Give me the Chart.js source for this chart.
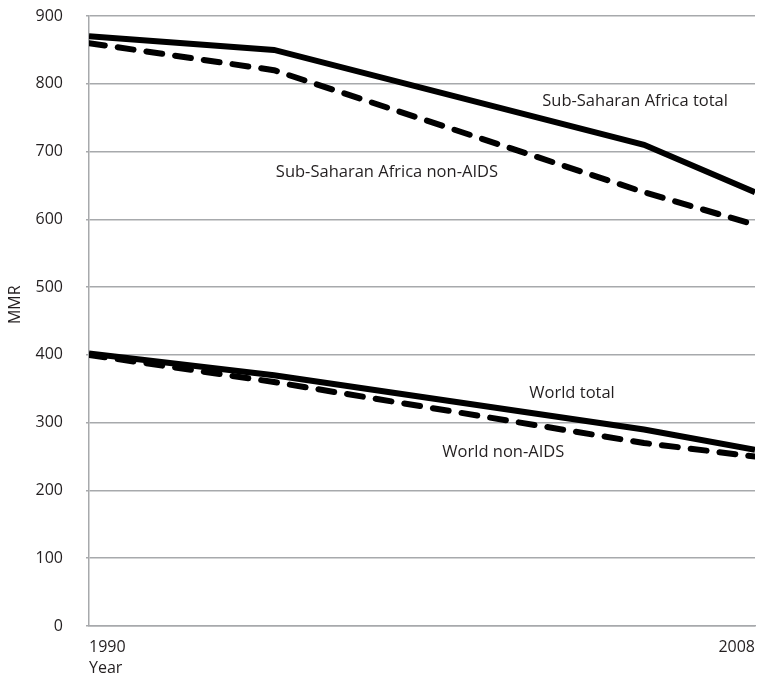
<!DOCTYPE html>
<html>
<head>
<meta charset="utf-8">
<script src="https://cdn.jsdelivr.net/npm/chart.js@4/dist/chart.umd.min.js"></script>
<style>
html,body{margin:0;padding:0;background:#fff;}
#wrap{width:765px;height:676px;position:relative;}
</style>
</head>
<body>
<div id="wrap"><canvas id="c" width="765" height="676"></canvas></div>
<script>
const years = [1990, 1995, 2005, 2008];
const ssaTotal = [870, 850, 710, 640];
const ssaNonAids = [860, 820, 640, 592];
const worldTotal = [402, 370, 290, 260];
const worldNonAids = [400, 360, 270, 250];
const xTickLabels = [1990, 2008];
const yTicks = [0, 100, 200, 300, 400, 500, 600, 700, 800, 900];
const seriesLabels = ['Sub-Saharan Africa total', 'Sub-Saharan Africa non-AIDS', 'World total', 'World non-AIDS'];
const labelAnchors = [[2002.25, 774], [1995.05, 669], [2001.9, 344], [1999.55, 256]];
const yTitle = 'MMR';
const yTitleAnchor = 474;

const FONT = 'Open Sans';
const toPts = arr => arr.map((v, i) => ({x: years[i], y: v}));

const textPlugin = {
  id: 'seriesText',
  afterDatasetsDraw(chart) {
    const {ctx, scales} = chart;
    ctx.save();
    ctx.font = '16.5px "' + FONT + '"';
    ctx.fillStyle = '#231f20';
    ctx.textAlign = 'left';
    ctx.textBaseline = 'middle';
    seriesLabels.forEach((t, i) => {
      const [xv, yv] = labelAnchors[i];
      ctx.fillText(t, scales.x.getPixelForValue(xv), scales.y.getPixelForValue(yv));
    });
    ctx.translate(15, scales.y.getPixelForValue(yTitleAnchor));
    ctx.rotate(-Math.PI / 2);
    ctx.textAlign = 'center';
    ctx.font = '16px "' + FONT + '"';
    ctx.fillText(yTitle, 0, 0);
    ctx.restore();
  }
};

const solid = {borderColor: '#000', borderWidth: 6, pointRadius: 0, tension: 0, fill: false, borderJoinStyle: 'miter'};
const dashed = {borderColor: '#000', borderWidth: 6, pointRadius: 0, tension: 0, fill: false, borderDash: [16, 13], borderCapStyle: 'round', borderJoinStyle: 'round'};

new Chart(document.getElementById('c'), {
  type: 'line',
  data: {
    datasets: [
      Object.assign({label: seriesLabels[0], data: toPts(ssaTotal)}, solid),
      Object.assign({label: seriesLabels[1], data: toPts(ssaNonAids)}, dashed),
      Object.assign({label: seriesLabels[2], data: toPts(worldTotal)}, solid),
      Object.assign({label: seriesLabels[3], data: toPts(worldNonAids)}, dashed)
    ]
  },
  options: {
    responsive: false,
    animation: false,
    layout: {padding: {top: 16, right: 10, left: 0, bottom: 0}},
    plugins: {legend: {display: false}, tooltip: {enabled: false}},
    scales: {
      x: {
        type: 'linear',
        min: 1990, max: 2008,
        afterBuildTicks: axis => { axis.ticks = xTickLabels.map(v => ({value: v})); },
        afterFit: axis => { axis.height = 50; axis.paddingLeft = 0; axis.paddingRight = 0; },
        grid: {display: false, drawTicks: false},
        border: {display: true, color: '#a7a9ac', width: 1.5},
        ticks: {align: 'inner', padding: 12, color: '#231f20', font: {family: FONT, size: 16}, callback: v => String(v), maxRotation: 0},
        title: {display: true, text: 'Year', align: 'start', color: '#231f20', font: {family: FONT, size: 16, lineHeight: 1.0}, padding: {top: 0, bottom: 0}}
      },
      y: {
        min: 0, max: 900,
        afterBuildTicks: axis => { axis.ticks = yTicks.map(v => ({value: v})); },
        afterFit: axis => { axis.width = 89; axis.paddingTop = 0; axis.paddingBottom = 0; },
        grid: {color: '#a7a9ac', lineWidth: 1.5, tickLength: 3, drawTicks: true},
        border: {display: true, color: '#a7a9ac', width: 1.5},
        ticks: {padding: 23, color: '#231f20', font: {family: FONT, size: 16}},
        title: {display: false}
      }
    }
  },
  plugins: [textPlugin]
});
</script>
</body>
</html>
